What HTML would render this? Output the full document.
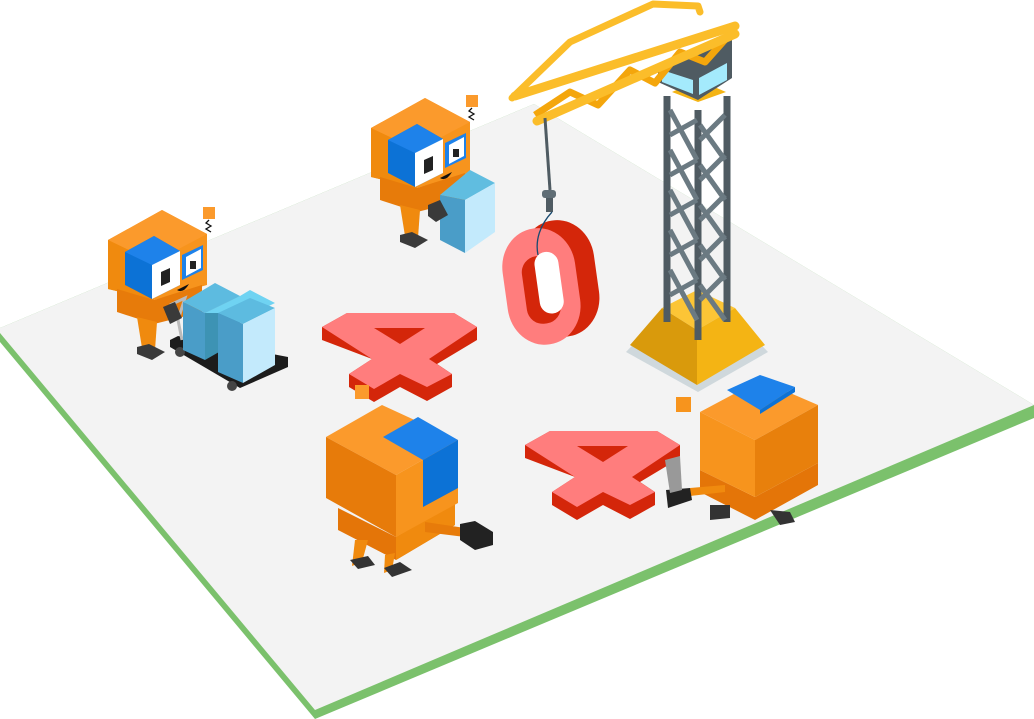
<!DOCTYPE html>
<html><head><meta charset="utf-8"><style>html,body{margin:0;padding:0;background:#fff;width:1034px;height:719px;overflow:hidden}svg{display:block}</style></head>
<body>
<svg width="1034" height="719" viewBox="0 0 1034 719" xmlns="http://www.w3.org/2000/svg">
<defs>
<g id="head">
  <polygon points="425,98 470,122 470,173 417,188 371,177 371,128" fill="#f7941d"/>
  <polygon points="371,128 425,98 470,122 417,150" fill="#fb9a2c"/>
  <polygon points="371,128 417,150 417,188 371,177" fill="#f08a0e"/>
  <polygon points="388,140 417,124 443,139 443,173 415,187 388,173" fill="#0c72d6"/>
  <polygon points="388,140 417,124 443,139 415,153" fill="#1e82ea"/>
  <polygon points="415,153 443,139 443,173 415,187" fill="#fff"/>
  <polygon points="424,160 433,156 433,170 424,174" fill="#222"/>
  <polygon points="445,143 466,133 466,158 445,168" fill="#1e82ea"/>
  <polygon points="449,145 464,137 464,156 449,164" fill="#fff"/>
  <rect x="453" y="149" width="6" height="8" fill="#222"/>
  <path d="M440,178 q6,4 12,-6 z" fill="#111"/>
  <polygon points="380,177 417,188 465,173 465,200 417,212 380,200" fill="#e77b0a"/>
  <polygon points="400,205 420,210 418,238 405,236" fill="#f08a0e"/>
  <polygon points="400,235 412,232 428,240 415,248 400,242" fill="#3a3a3a"/>
  <rect x="466" y="95" width="12" height="12" fill="#fb9a2c"/>
  <path d="M472,108 l-3,3 l5,3 l-5,3 l5,3" stroke="#111" fill="none" stroke-width="1.3"/>
</g>
<g id="four">
  <polygon points="525,445 550,431 657,431 680,445 680,458 640,482 655,492 655,505 630,519 603,505 577,520 552,505 552,492 575,477 525,458" fill="#d4260a"/>
  <polygon points="525,445 550,431 657,431 680,445 632,477 655,492 630,505 603,492 577,507 552,492 575,477" fill="#ff7d7d"/>
  <polygon points="577,446 628,446 603,462" fill="#d4260a"/>
</g>
</defs>
<polygon points="0,328 534,104 1034,405 1034,418 315,719 0,342" fill="#7bc16c"/>
<polygon points="0,328 534,104 1034,405 315,710 0,333" fill="#f3f3f3"/>

<polygon points="626,352 664,312 730,312 768,352 698,392" fill="#cfd8dc"/>
<polygon points="630,345 662,308 697,330 697,385" fill="#d99a0c"/>
<polygon points="697,330 735,308 765,345 697,385" fill="#f4b414"/>
<polygon points="662,308 697,290 735,308 697,330" fill="#fcc536"/>
<g stroke="#4f5b62" stroke-width="7" fill="none">
  <line x1="667" y1="96" x2="667" y2="322"/>
  <line x1="698" y1="110" x2="698" y2="340"/>
  <line x1="727" y1="96" x2="727" y2="322"/>
</g>
<g stroke="#6b7a82" stroke-width="5" fill="none">
  <path d="M670,110 L697,160 M670,150 L697,200 M670,190 L697,240 M670,230 L697,280 M670,270 L697,320 M697,120 L670,135 M697,160 L670,175 M697,200 L670,215 M697,240 L670,255 M697,280 L670,295"/>
  <path d="M700,125 L725,160 M700,165 L725,200 M700,205 L725,240 M700,245 L725,280 M700,285 L725,320 M725,115 L700,140 M725,155 L700,180 M725,195 L700,220 M725,235 L700,260 M725,275 L700,300"/>
</g>
<polygon points="672,92 698,102 726,92 698,80" fill="#f4b414"/>
<polygon points="658,68 698,52 732,40 732,78 698,100 658,82" fill="#4f5b62"/>
<polygon points="662,70 693,80 693,94 662,82" fill="#a4eafc"/>
<polygon points="699,78 727,63 727,80 699,95" fill="#a4eafc"/>
<g stroke="#fbbd2a" stroke-width="7" fill="none" stroke-linecap="round" stroke-linejoin="round">
  <polyline points="512,98 570,42 653,4 698,6 700,12"/>
</g>
<g stroke="#f4a60c" stroke-width="7" fill="none" stroke-linejoin="round">
  <polyline points="535,115 570,92 598,105 630,70 655,83 680,52 705,62 730,34"/>
</g>
<g stroke="#fbbd2a" stroke-width="9" fill="none" stroke-linecap="round">
  <line x1="515" y1="96" x2="735" y2="26"/>
  <line x1="537" y1="121" x2="735" y2="34"/>
</g>
<line x1="545" y1="118" x2="550" y2="190" stroke="#4f5b62" stroke-width="3"/>
<rect x="542" y="190" width="14" height="8" rx="3" fill="#5f6d75"/>
<rect x="546" y="198" width="7" height="14" fill="#4f5b62"/>

<rect x="524" y="220" width="73" height="117" rx="36" ry="40" fill="#d4260a" transform="rotate(-8 560 280)"/>
<rect x="505" y="228" width="73" height="117" rx="36" ry="40" fill="#ff7d7d" transform="rotate(-8 541 287)"/>
<rect x="524" y="256" width="34" height="68" rx="16" fill="#d4260a" transform="rotate(-8 540 288)"/>
<rect x="537" y="252" width="24" height="62" rx="12" fill="#fff" transform="rotate(-8 547 282)"/>
<path d="M552,212 C540,225 535,240 538,255" stroke="#1a4a70" stroke-width="1.3" fill="none"/>

<use href="#four" transform="translate(-203,-118)"/>
<use href="#four"/>

<use href="#head"/>
<polygon points="440,195 470,170 495,183 465,200" fill="#60bde0"/>
<polygon points="465,200 495,183 495,232 465,253" fill="#c3eafc"/>
<polygon points="440,195 465,200 465,253 440,240" fill="#4a9dc8"/>
<polygon points="428,205 440,200 448,215 436,222 428,216" fill="#3a3a3a"/>

<use href="#head" transform="translate(-263,112)"/>
<polygon points="170,340 178,336 288,357 288,367 240,388 170,347" fill="#1c1c1c"/>
<circle cx="180" cy="352" r="5" fill="#444"/><circle cx="232" cy="386" r="5" fill="#444"/>
<polyline points="170,305 185,298 178,320 182,340" stroke="#bbb" stroke-width="3" fill="none"/>
<polygon points="183,302 215,283 240,296 205,313" fill="#5dbbe0"/>
<polygon points="183,302 205,313 205,360 183,350" fill="#4a9dc8"/>
<polygon points="205,313 240,296 240,340 205,360" fill="#3d93b4"/>
<polygon points="205,313 240,296 250,290 275,303 240,320 218,313" fill="#6fd3f2"/>
<polygon points="218,313 250,298 275,308 243,324" fill="#5dbbe0"/>
<polygon points="218,313 243,324 243,383 218,372" fill="#4a9dc8"/>
<polygon points="243,324 275,308 275,365 243,383" fill="#c3eafc"/>
<polygon points="163,307 175,302 182,318 170,324" fill="#3a3a3a"/>

<rect x="355" y="385" width="14" height="14" fill="#fb9a2c"/>
<polygon points="338,508 396,537 455,503 455,525 396,560 338,530" fill="#e47508"/>
<polygon points="396,537 455,503 455,525 396,560" fill="#f08a0e"/>
<polygon points="326,437 382,405 458,440 396,475" fill="#fb9a2c"/>
<polygon points="326,437 396,475 396,537 326,498" fill="#e77b0a"/>
<polygon points="396,475 458,440 458,503 396,537" fill="#f7941d"/>
<polygon points="383,437 418,417 458,440 423,460" fill="#1e82ea"/>
<polygon points="423,460 458,440 458,488 423,507" fill="#0c72d6"/>
<polygon points="425,522 465,528 465,537 425,532" fill="#e77b0a"/>
<polygon points="460,524 475,521 493,532 493,545 475,550 460,540" fill="#222"/>
<polygon points="355,540 368,540 362,562 352,566" fill="#f08a0e"/>
<polygon points="350,560 368,556 375,565 358,569" fill="#333"/>
<polygon points="385,555 395,553 392,570 384,573" fill="#f08a0e"/>
<polygon points="384,568 400,562 412,570 392,577" fill="#333"/>

<rect x="676" y="397" width="15" height="15" fill="#f7941d"/>
<polygon points="700,470 755,497 818,463 818,485 755,520 700,492" fill="#e47508"/>
<polygon points="700,412 760,380 818,405 755,440" fill="#fb9a2c"/>
<polygon points="700,412 755,440 755,497 700,470" fill="#f7941d"/>
<polygon points="755,440 818,405 818,463 755,497" fill="#e8800c"/>
<polygon points="727,390 760,375 795,387 760,410" fill="#1e82ea"/>
<polygon points="760,410 795,387 795,392 760,414" fill="#0c72d6"/>
<polygon points="690,488 725,485 725,492 690,496" fill="#f08a0e"/>
<polygon points="666,490 690,488 692,500 668,508" fill="#222"/>
<polygon points="665,460 680,456 682,490 670,493" fill="#999"/>
<polygon points="710,505 730,505 730,518 710,520" fill="#333"/>
<polygon points="770,510 790,512 795,522 780,525" fill="#333"/>
</svg>
</body></html>
